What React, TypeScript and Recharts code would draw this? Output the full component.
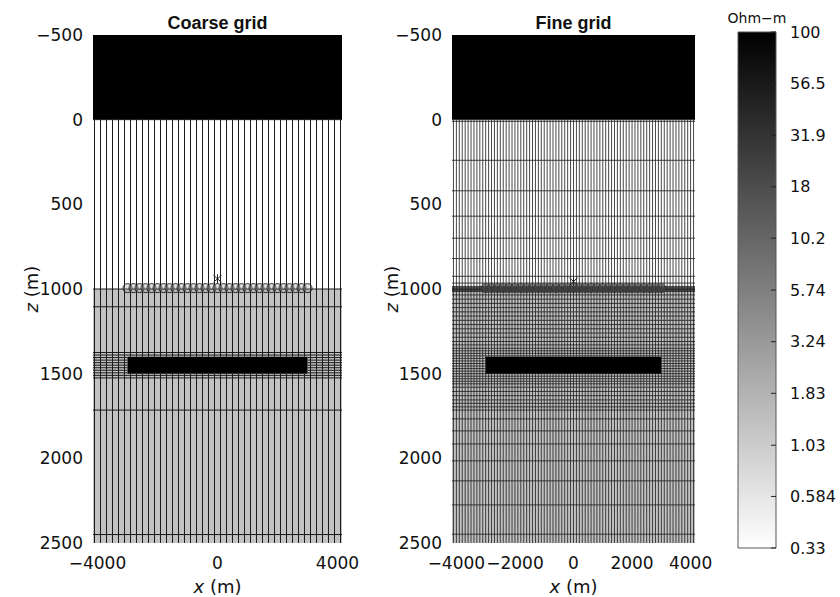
import React from 'react';
import { ComposedChart, XAxis, YAxis, ReferenceArea, ReferenceLine, Scatter } from 'recharts';

// ---------- data ----------
const Z_DOMAIN: [number, number] = [-500, 2500];
const X_DOMAIN: [number, number] = [-4150, 4150];
const zTicks = [-500, 0, 500, 1000, 1500, 2000, 2500];
const coarseXTicks = [-4000, 0, 4000];
const fineXTicks = [-4000, -2000, 0, 2000, 4000];

// layers: air, sea water, sediment
const layerTop = [-500, 0, 1000];
const layerBottom = [0, 1000, 2500];
const layerRho = [100, 0.33, 1.3];

// resistive reservoir
const reservoirX = [-3000, 3000];
const reservoirZ = [1400, 1500];
const reservoirRho = 100;

// coarse mesh node lines
const coarseMeshX = [-4100, -3900, -3700, -3500, -3300, -3100, -2900, -2700, -2500, -2300, -2100, -1900, -1700, -1500, -1300, -1100, -900, -700, -500, -300, -100, 100, 300, 500, 700, 900, 1100, 1300, 1500, 1700, 1900, 2100, 2300, 2500, 2700, 2900, 3100, 3300, 3500, 3700, 3900, 4100];
const coarseMeshZ = [0, 1000, 1105, 1375, 1390, 1405, 1420, 1435, 1450, 1465, 1480, 1495, 1510, 1525, 1715, 2450];

// fine mesh node lines
const fineMeshX = [-4100, -4000, -3900, -3800, -3700, -3600, -3500, -3400, -3300, -3200, -3100, -3000, -2900, -2800, -2700, -2600, -2500, -2400, -2300, -2200, -2100, -2000, -1900, -1800, -1700, -1600, -1500, -1400, -1300, -1200, -1100, -1000, -900, -800, -700, -600, -500, -400, -300, -200, -100, 0, 100, 200, 300, 400, 500, 600, 700, 800, 900, 1000, 1100, 1200, 1300, 1400, 1500, 1600, 1700, 1800, 1900, 2000, 2100, 2200, 2300, 2400, 2500, 2600, 2700, 2800, 2900, 3000, 3100, 3200, 3300, 3400, 3500, 3600, 3700, 3800, 3900, 4000, 4100];
const fineMeshZ = [0, 10, 240, 420, 570, 700, 820, 925, 965, 985, 992, 996, 1000, 1004, 1008, 1015, 1035, 1060, 1085, 1110, 1135, 1160, 1185, 1210, 1235, 1260, 1285, 1310, 1330, 1350, 1365, 1380, 1395, 1410, 1425, 1440, 1455, 1470, 1485, 1500, 1515, 1530, 1545, 1560, 1580, 1605, 1630, 1655, 1675, 1696, 1715, 1767, 1838, 1915, 2015, 2133, 2275, 2448];

// receivers and source
const receiverX = [-3000, -2800, -2600, -2400, -2200, -2000, -1800, -1600, -1400, -1200, -1000, -800, -600, -400, -200, 0, 200, 400, 600, 800, 1000, 1200, 1400, 1600, 1800, 2000, 2200, 2400, 2600, 2800, 3000];
const receiverZ = 995;
const sourceX = 0;
const sourceZCoarse = 940;
const sourceZFine = 955;

// colour bar
const cbTicks = [0.33, 0.584, 1.03, 1.83, 3.24, 5.74, 10.2, 18, 31.9, 56.5, 100];
const cbDomain: [number, number] = [0.33, 100];

// ---------- helpers ----------
const grayOf = (rho: number) => {
  const t = Math.log(rho / cbDomain[0]) / Math.log(cbDomain[1] / cbDomain[0]);
  const v = Math.round(255 * (1 - Math.max(0, Math.min(1, t))));
  return `rgb(${v},${v},${v})`;
};
const fmt = (v: number) => String(v).replace('-', '\u2212');
const TICK_FONT = { fontFamily: 'DejaVu Sans', fontSize: 17, fill: '#111' };

// mesh lines are hidden where they cross the (black) reservoir
const verticalSpans = (x: number): [number, number][] =>
  x > reservoirX[0] && x < reservoirX[1]
    ? [[layerTop[1], reservoirZ[0]], [reservoirZ[1], Z_DOMAIN[1]]]
    : [[layerTop[1], Z_DOMAIN[1]]];
const horizontalSpans = (z: number): [number, number][] =>
  z > reservoirZ[0] && z < reservoirZ[1]
    ? [[X_DOMAIN[0], reservoirX[0]], [reservoirX[1], X_DOMAIN[1]]]
    : [[X_DOMAIN[0], X_DOMAIN[1]]];

const zLabel = (props: any) => {
  const vb = props.viewBox;
  const x = vb.x + 31;
  const y = vb.y + vb.height / 2;
  return (
    <text x={x} y={y} transform={`rotate(-90 ${x} ${y})`} textAnchor="middle" dominantBaseline="central"
      style={{ fontFamily: 'DejaVu Sans', fontSize: 18, fill: '#111' }}>
      <tspan fontStyle="italic">z</tspan> (m)
    </text>
  );
};
const xLabel = (props: any) => {
  const vb = props.viewBox;
  return (
    <text x={vb.x + vb.width / 2} y={vb.y + 50} textAnchor="middle"
      style={{ fontFamily: 'DejaVu Sans', fontSize: 18, fill: '#111' }}>
      <tspan fontStyle="italic">x</tspan> (m)
    </text>
  );
};

const makeReceiverShape = (fill: string, opacity: number, stroke: string) => (p: any) => (
  <circle cx={p.cx} cy={p.cy} r={4.5} fill={fill} fillOpacity={opacity} stroke={stroke} strokeWidth={0.9} />
);
const SourceShape = (p: any) => (
  <g stroke="#222" strokeWidth={1}>
    <line x1={p.cx - 4} y1={p.cy - 3.5} x2={p.cx + 4} y2={p.cy + 3.5} />
    <line x1={p.cx - 4} y1={p.cy + 3.5} x2={p.cx + 4} y2={p.cy - 3.5} />
    <line x1={p.cx} y1={p.cy - 4.5} x2={p.cx} y2={p.cy + 4.5} />
  </g>
);

type PanelProps = {
  title: string;
  meshX: number[];
  meshZ: number[];
  xTicks: number[];
  sourceZ: number;
  yWidth: number;
  rightMargin: number;
  lineWidth: number;
  lineColor: string;
  rxFill: string;
  rxOpacity: number;
  rxStroke: string;
};

function Panel({ title, meshX, meshZ, xTicks, sourceZ, yWidth, rightMargin, lineWidth, lineColor, rxFill, rxOpacity, rxStroke }: PanelProps) {
  const receivers = receiverX.map((x) => ({ x, z: receiverZ }));
  const source = [{ x: sourceX, z: sourceZ }];
  return (
    <ComposedChart width={360} height={597} margin={{ top: 35, right: rightMargin, bottom: 0, left: 0 }}>
      <XAxis type="number" dataKey="x" domain={X_DOMAIN} ticks={xTicks} allowDataOverflow interval={0}
        tickFormatter={fmt} tick={TICK_FONT} tickLine={false} axisLine={false} tickMargin={8} height={54}
        label={{ content: xLabel }} />
      <YAxis type="number" dataKey="z" domain={Z_DOMAIN} reversed ticks={zTicks} allowDataOverflow interval={0}
        tickFormatter={fmt} tick={TICK_FONT} tickLine={false} axisLine={false} tickMargin={4} width={yWidth}
        label={{ content: zLabel }} />
      {layerTop.map((t, i) => (
        <ReferenceArea key={`l${i}`} x1={X_DOMAIN[0]} x2={X_DOMAIN[1]} y1={t} y2={layerBottom[i]}
          fill={grayOf(layerRho[i])} fillOpacity={1} stroke="none"
          label={i === 0 ? { value: title, position: 'top', offset: 6, style: { fontFamily: 'Liberation Sans', fontWeight: 'bold', fontSize: 18, fill: '#111' } } : undefined} />
      ))}
      <ReferenceArea x1={reservoirX[0]} x2={reservoirX[1]} y1={reservoirZ[0]} y2={reservoirZ[1]}
        fill={grayOf(reservoirRho)} fillOpacity={1} stroke="none" />
      {meshX.flatMap((x) =>
        verticalSpans(x).map(([a, b]) => (
          <ReferenceLine key={`vx${x}_${a}`} segment={[{ x, y: a }, { x, y: b }]} stroke={lineColor} strokeWidth={lineWidth} />
        ))
      )}
      {meshZ.flatMap((z) =>
        horizontalSpans(z).map(([a, b]) => (
          <ReferenceLine key={`hz${z}_${a}`} segment={[{ x: a, y: z }, { x: b, y: z }]} stroke={lineColor} strokeWidth={lineWidth} />
        ))
      )}
      <Scatter data={receivers} dataKey="z" shape={makeReceiverShape(rxFill, rxOpacity, rxStroke)} isAnimationActive={false} />
      <Scatter data={source} dataKey="z" shape={SourceShape} isAnimationActive={false} />
    </ComposedChart>
  );
}

const CbTick = (p: any) => {
  const { x, y, payload } = p;
  return (
    <g>
      <line x1={x - 14 - 5} x2={x - 14} y1={y} y2={y} stroke="#222" strokeWidth={1} />
      <text x={x} y={y} dy="0.35em" textAnchor="start" style={{ fontFamily: 'DejaVu Sans', fontSize: 16, fill: '#111' }}>
        {String(payload.value)}
      </text>
    </g>
  );
};

function ColorBar() {
  return (
    <ComposedChart width={120} height={597} margin={{ top: 32, right: 0, bottom: 49, left: 18 }}
      data={[{ x: 0, v: cbDomain[0] }, { x: 1, v: cbDomain[1] }]}>
      <defs>
        <linearGradient id="cbGrad" x1="0" y1="0" x2="0" y2="1">
          <stop offset="0%" stopColor="#000" />
          <stop offset="100%" stopColor="#fff" />
        </linearGradient>
      </defs>
      <XAxis type="number" dataKey="x" domain={[0, 1]} hide />
      <ReferenceArea x1={0} x2={1} y1={cbDomain[0]} y2={cbDomain[1]} fill="url(#cbGrad)" fillOpacity={1}
        stroke="#555" strokeWidth={1}
        label={{ value: 'Ohm\u2212m', position: 'top', offset: 9, style: { fontFamily: 'DejaVu Sans', fontSize: 14, fill: '#111' } }} />
      <YAxis type="number" dataKey="v" orientation="right" scale="log" domain={cbDomain} ticks={cbTicks}
        interval={0} allowDataOverflow width={64} tickLine={false} axisLine={false} tickSize={6} tickMargin={8}
        tick={<CbTick />} />
    </ComposedChart>
  );
}

export default function App() {
  return (
    <div style={{ position: 'absolute', left: 0, top: 0, width: 840, height: 597, background: '#fff' }}>
      <div style={{ position: 'absolute', left: 0, top: 0 }}>
        <Panel title="Coarse grid" meshX={coarseMeshX} meshZ={coarseMeshZ} xTicks={coarseXTicks}
          sourceZ={sourceZCoarse} yWidth={93} rightMargin={18} lineWidth={1} lineColor="#1a1a1a"
          rxFill="#999" rxOpacity={0.3} rxStroke="#111" />
      </div>
      <div style={{ position: 'absolute', left: 360, top: 0 }}>
        <Panel title="Fine grid" meshX={fineMeshX} meshZ={fineMeshZ} xTicks={fineXTicks}
          sourceZ={sourceZFine} yWidth={92} rightMargin={25} lineWidth={0.8} lineColor="#1a1a1a"
          rxFill="#444" rxOpacity={0.6} rxStroke="#333" />
      </div>
      <div style={{ position: 'absolute', left: 720, top: 0 }}>
        <ColorBar />
      </div>
    </div>
  );
}
